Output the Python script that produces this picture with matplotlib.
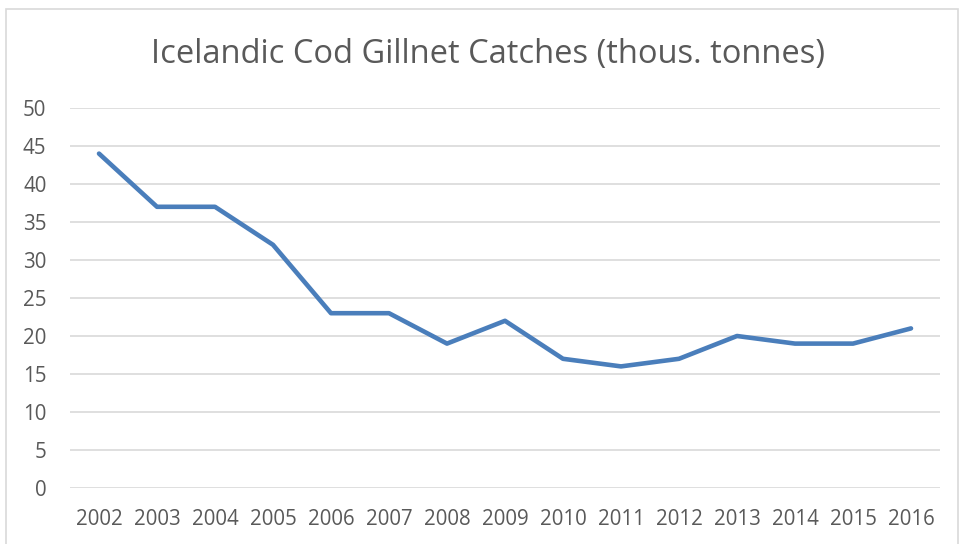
import matplotlib.pyplot as plt
from matplotlib.patches import Rectangle

years = ['2002', '2003', '2004', '2005', '2006', '2007', '2008', '2009',
         '2010', '2011', '2012', '2013', '2014', '2015', '2016']
catches = [44, 37, 37, 32, 23, 23, 19, 22, 17, 16, 17, 20, 19, 19, 21]
yticks = [0, 5, 10, 15, 20, 25, 30, 35, 40, 45, 50]

plt.rcParams['font.family'] = ['Open Sans', 'DejaVu Sans']
W, H = 962, 544
fig = plt.figure(figsize=(W / 100, H / 100), dpi=100)

# plot area in pixels
left, right, top, bottom = 70, 940, 108, 488
ax = fig.add_axes([left / W, 1 - bottom / H, (right - left) / W, (bottom - top) / H])

x = list(range(len(years)))
ax.plot(x, catches, color='#4a7ebb', lw=3.3, solid_joinstyle='round', solid_capstyle='round')

ax.set_xlim(-0.5, len(years) - 0.5)
ax.set_ylim(0, 50)
ax.set_yticks(yticks)
ax.set_xticks(x)
ax.set_xticklabels(years)
ax.grid(axis='y', color='#d9d9d9', lw=1.2)
ax.set_axisbelow(True)
for s in ax.spines.values():
    s.set_visible(False)
ax.tick_params(length=0, labelsize=14.8, colors='#595959')
ax.tick_params(axis='x', pad=15)
ax.tick_params(axis='y', pad=17)

fig.text(488 / W, 1 - 55 / H, 'Icelandic Cod Gillnet Catches (thous. tonnes)',
         ha='center', va='center', fontsize=23.5, color='#595959')

# chart border
fig.patches.append(Rectangle((6 / W, -0.01), 952 / W, 1 - 9 / H + 0.01,
                             transform=fig.transFigure, fill=False,
                             edgecolor='#d9d9d9', lw=1.2))

fig.savefig('out.png', dpi=100)
